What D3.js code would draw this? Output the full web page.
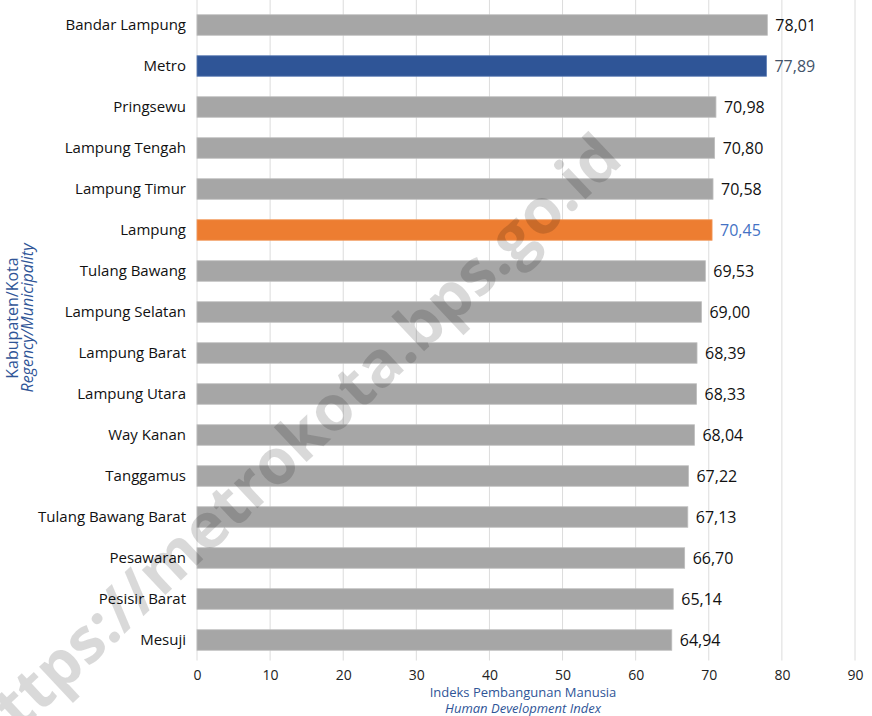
<!DOCTYPE html>
<html>
<head>
<meta charset="utf-8">
<script src="https://cdn.jsdelivr.net/npm/d3@7/dist/d3.min.js"></script>
<style>
  html, body { margin: 0; padding: 0; background: #fff; }
  svg { display: block; font-family: "Open Sans", "Noto Sans", sans-serif; }
</style>
</head>
<body>
<svg id="chart" width="872" height="716"></svg>
<script>
// Human Development Index by regency/municipality, Lampung province
const regions = [
  "Bandar Lampung", "Metro", "Pringsewu", "Lampung Tengah", "Lampung Timur",
  "Lampung", "Tulang Bawang", "Lampung Selatan", "Lampung Barat", "Lampung Utara",
  "Way Kanan", "Tanggamus", "Tulang Bawang Barat", "Pesawaran", "Pesisir Barat", "Mesuji"
];
const hdi = [
  78.01, 77.89, 70.98, 70.80, 70.58,
  70.45, 69.53, 69.00, 68.39, 68.33,
  68.04, 67.22, 67.13, 66.70, 65.14, 64.94
];
const xTicks = [0, 10, 20, 30, 40, 50, 60, 70, 80, 90];

const svg = d3.select("#chart");
const margin = { top: 4.5, right: 17, bottom: 55.5, left: 197 };
const W = 872, H = 716;
const iw = W - margin.left - margin.right;
const ih = H - margin.top - margin.bottom;

const g = svg.append("g").attr("transform", `translate(${margin.left},${margin.top})`);

const x = d3.scaleLinear().domain([0, 90]).range([0, iw]);
const y = d3.scaleBand().domain(regions).range([0, ih]).paddingInner(0.5).paddingOuter(0.25);

const fmt = v => d3.format(".2f")(v).replace(".", ",");

// vertical grid
g.append("g")
  .selectAll("line")
  .data(xTicks)
  .join("line")
  .attr("x1", d => x(d)).attr("x2", d => x(d))
  .attr("y1", -4.5).attr("y2", ih)
  .attr("stroke", "#dcdcdc").attr("stroke-width", 1);

const rows = regions.map((r, i) => ({ name: r, value: hdi[i] }));
const barFill = d => d.name === "Metro" ? "#2f5597" : d.name === "Lampung" ? "#ed7d31" : "#a6a6a6";
const labelFill = d => d.name === "Metro" ? "#44546a" : d.name === "Lampung" ? "#4472c4" : "#111";

g.append("g")
  .selectAll("rect")
  .data(rows)
  .join("rect")
  .attr("x", 0)
  .attr("y", d => y(d.name))
  .attr("width", d => x(d.value))
  .attr("height", y.bandwidth())
  .attr("fill", barFill)
  .attr("stroke", d => d.name === "Metro" ? "#5d7db5" : d.name === "Lampung" ? "#f29a5e" : "#bdbdbd")
  .attr("stroke-width", 0.8);

g.append("g")
  .selectAll("text")
  .data(rows)
  .join("text")
  .attr("x", d => x(d.value) + 8)
  .attr("y", d => y(d.name) + y.bandwidth() / 2)
  .attr("dy", "0.36em")
  .attr("font-size", 16)
  .attr("fill", labelFill)
  .text(d => fmt(d.value));

// category axis
const yAxis = g.append("g").call(d3.axisLeft(y).tickSize(0).tickPadding(11));
yAxis.select(".domain").remove();
yAxis.selectAll("text").attr("font-size", 15).attr("fill", "#111")
  .attr("font-family", "'Open Sans', sans-serif");

// value axis
const xAxis = g.append("g")
  .attr("transform", `translate(0,${ih})`)
  .call(d3.axisBottom(x).tickValues(xTicks).tickSize(0).tickPadding(10));
xAxis.select(".domain").remove();
xAxis.selectAll("text").attr("font-size", 14).attr("fill", "#222")
  .attr("font-family", "'Open Sans', sans-serif");

// axis titles
const titleBlue = "#2f5597";
svg.append("text").attr("text-anchor", "middle").attr("fill", titleBlue).attr("font-size", 13)
  .attr("x", 523).attr("y", 697).text("Indeks Pembangunan Manusia");
svg.append("text").attr("text-anchor", "middle").attr("fill", titleBlue).attr("font-size", 13)
  .attr("font-style", "italic").attr("x", 523).attr("y", 713).text("Human Development Index");

const yt = svg.append("text").attr("text-anchor", "middle").attr("fill", titleBlue).attr("font-size", 16)
  .attr("transform", "translate(0,318) rotate(-90)");
yt.append("tspan").attr("x", 0).attr("y", 18).text("Kabupaten/Kota");
yt.append("tspan").attr("x", 0).attr("y", 33).attr("font-style", "italic").text("Regency/Municipality");

// watermark
svg.append("text")
  .attr("transform", "translate(294,448) rotate(-43.3)")
  .attr("text-anchor", "middle")
  .attr("dy", "0.3em")
  .attr("font-size", 63)
  .attr("font-weight", "bold")
  .attr("font-family", "'Open Sans', sans-serif")
  .attr("fill", "#000")
  .attr("fill-opacity", 0.15)
  .text("https://metrokota.bps.go.id");
</script>
</body>
</html>
